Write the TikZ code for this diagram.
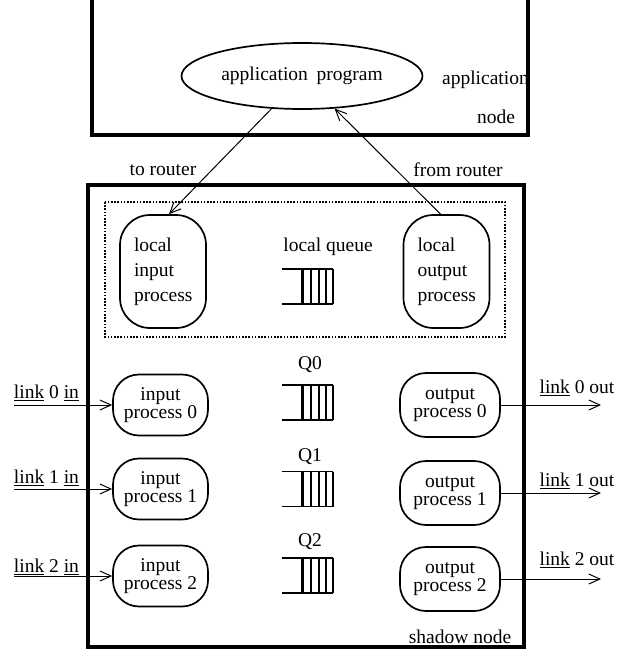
\documentclass[tikz,border=0pt]{standalone}
\usepackage{fontspec}
\setmainfont{Liberation Serif}
\usetikzlibrary{arrows.meta,shapes.geometric}
\begin{document}
\begin{tikzpicture}[x=1pt,y=-1pt,
  txt/.style={font=\fontsize{19.5}{17}\selectfont, inner sep=0pt},
  frame/.style={line width=3.2pt},
  proc/.style={draw, line width=1.7pt, rounded corners=26pt, minimum width=95pt, minimum height=61pt, align=center, font=\fontsize{19.5}{17}\selectfont, inner sep=0pt},
  lproc/.style={draw, line width=1.7pt, rounded corners=30pt, minimum width=86pt, minimum height=113pt, text width=58pt, align=left, font=\fontsize{19.5}{25}\selectfont, inner sep=0pt},
  arr/.style={line width=1pt, -{Straight Barb[length=11pt,width=10pt,line width=1pt]}},
  queue/.pic={
    \draw[line width=1.4pt] (0,-17.5) -- (51,-17.5) (0,17.5) -- (51,17.5);
    \draw[line width=3pt] (20,-17.5) -- (20,17.5);
    \foreach \qx in {29,37,44,51} \draw[line width=1.3pt] (\qx,-17.5) -- (\qx,17.5);
  }]
\useasboundingbox (0,0) rectangle (626,653);

% application node
\draw[frame] (92,0) -- (92,135) -- (528,135) -- (528,0);
\node[draw, ellipse, line width=1.7pt, minimum width=241pt, minimum height=66pt, txt] (app) at (302,76) {application\hspace{0.45em}program};
\node[txt, anchor=east] (appl) at (529,80) {application};
\node[txt] (appn) at (496,117) {node};

\node[txt] (tor) at (163,170) {to router};
\node[txt] (fromr) at (458,170) {from router};

% shadow node
\draw[frame] (88,185) rectangle (524,647);
\node[txt] (shadow) at (460,637) {shadow node};
\draw[line width=1.7pt, dash pattern=on 1.6pt off 1.6pt] (105,202) rectangle (505,337);

\node[lproc] (lin) at (163,271.5) {local\\input\\process};
\node[lproc] (lout) at (446.5,271.5) {local\\output\\process};
\node[txt] (lq) at (328,247) {local queue};
\pic at (282,286.5) {queue};

% rows
\node[proc] (in0) at (160.5,405) {input\\process 0};
\node[proc] (in1) at (160.5,489) {input\\process 1};
\node[proc] (in2) at (160.5,576) {input\\process 2};
\node[proc, minimum width=100pt, minimum height=64pt] (out0) at (450,405) {output\\process 0};
\node[proc, minimum width=100pt, minimum height=64pt] (out1) at (450,493) {output\\process 1};
\node[proc, minimum width=100pt, minimum height=64pt] (out2) at (450,579) {output\\process 2};

\node[txt] (q0) at (310,365) {Q0};
\node[txt] (q1) at (310,457) {Q1};
\node[txt] (q2) at (310,542) {Q2};
\pic at (282,402.5) {queue};
\pic at (282,489) {queue};
\pic at (282,575.5) {queue};

\node[txt] (l0i) at (46.5,393) {\underline{link} 0 \underline{in}};
\node[txt] (l1i) at (46.5,478) {\underline{link} 1 \underline{in}};
\node[txt] (l2i) at (46.5,567) {\underline{link} 2 \underline{in}};
\node[txt] (l0o) at (577,388) {\underline{link} 0 out};
\node[txt] (l1o) at (577,481) {\underline{link} 1 out};
\node[txt] (l2o) at (577,560) {\underline{link} 2 out};

\coordinate (i0) at (14,405);
\coordinate (i1) at (14,489);
\coordinate (i2) at (14,576);
\coordinate (o0) at (601,405);
\coordinate (o1) at (601,493);
\coordinate (o2) at (601,579);
\draw[arr] (i0) -- (in0.west);
\draw[arr] (i1) -- (in1.west);
\draw[arr] (i2) -- (in2.west);
\draw[arr] (out0.east) -- (o0);
\draw[arr] (out1.east) -- (o1);
\draw[arr] (out2.east) -- (o2);

\draw[arr] (app.227) -- ([xshift=6pt]lin.north);
\draw[arr] ([xshift=-6pt]lout.north) -- (app.315);
\end{tikzpicture}
\end{document}
